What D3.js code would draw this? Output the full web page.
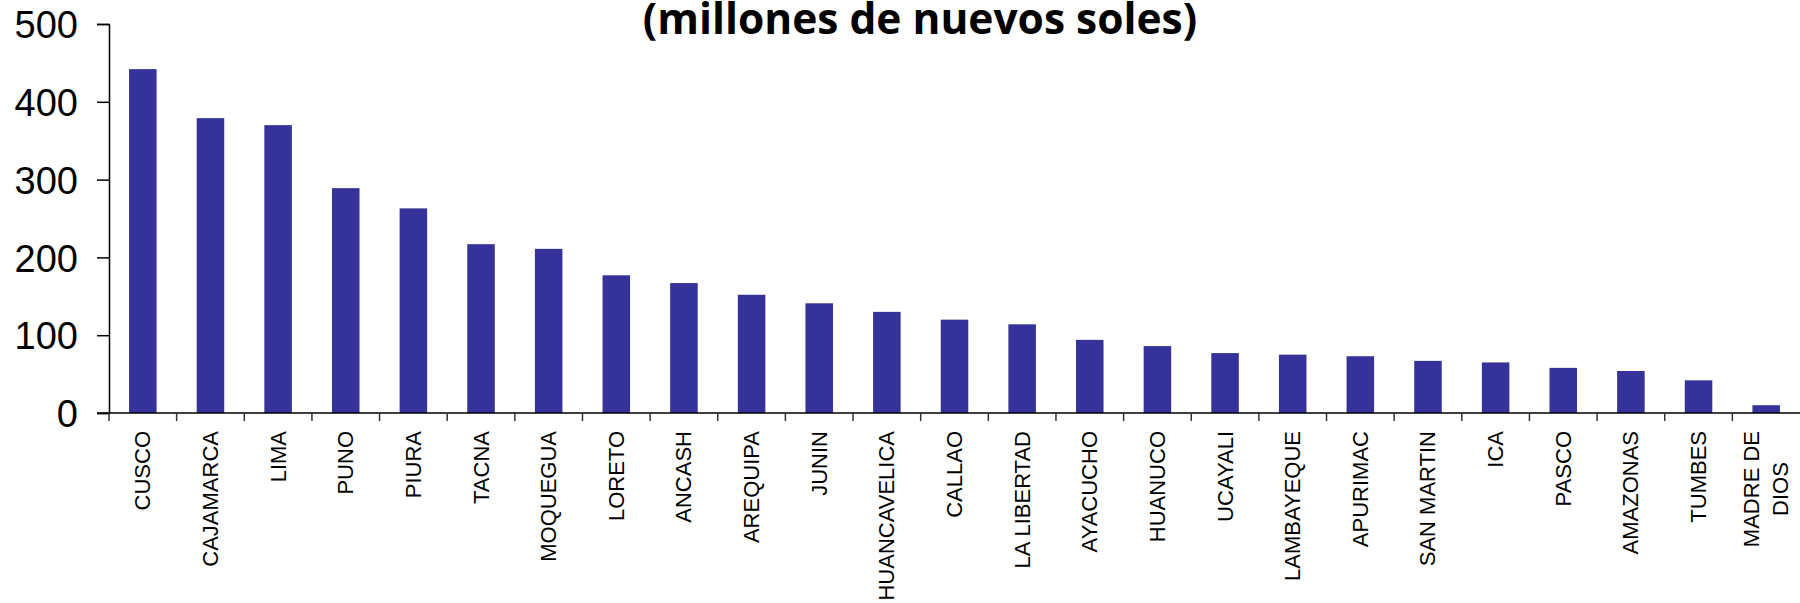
<!DOCTYPE html>
<html>
<head>
<meta charset="utf-8">
<script src="https://cdn.jsdelivr.net/npm/d3@7/dist/d3.min.js"></script>
<style>
  html, body { margin: 0; padding: 0; background: #fff; }
  svg { display: block; }
</style>
</head>
<body>
<svg id="chart" width="1800" height="603"></svg>
<script>
const titleText = "(millones de nuevos soles)";
const categories = ["CUSCO","CAJAMARCA","LIMA","PUNO","PIURA","TACNA","MOQUEGUA","LORETO","ANCASH","AREQUIPA","JUNIN","HUANCAVELICA","CALLAO","LA LIBERTAD","AYACUCHO","HUANUCO","UCAYALI","LAMBAYEQUE","APURIMAC","SAN MARTIN","ICA","PASCO","AMAZONAS","TUMBES","MADRE DE DIOS"];
const tickLabels = ["CUSCO","CAJAMARCA","LIMA","PUNO","PIURA","TACNA","MOQUEGUA","LORETO","ANCASH","AREQUIPA","JUNIN","HUANCAVELICA","CALLAO","LA LIBERTAD","AYACUCHO","HUANUCO","UCAYALI","LAMBAYEQUE","APURIMAC","SAN MARTIN","ICA","PASCO","AMAZONAS","TUMBES","MADRE DE\nDIOS"];
const values = [442, 379, 370, 289, 263, 217, 211, 177, 167, 152, 141, 130, 120, 114, 94, 86, 77, 75, 73, 67, 65, 58, 54, 42, 10];
const yTicks = [0, 100, 200, 300, 400, 500];

(function () {
const svg = d3.select("#chart");
const mLeft = 109, mRight = 1800, mTop = 24, mBottom = 413;
const pad = 0.593;

const x = d3.scaleBand().domain(categories).range([mLeft, mRight]).paddingInner(pad).paddingOuter(pad / 2);
const y = d3.scaleLinear().domain([0, 500]).range([mBottom, mTop]);

// title
svg.append("text")
  .attr("x", 920).attr("y", 34)
  .attr("text-anchor", "middle")
  .attr("font-family", "'Open Sans', sans-serif")
  .attr("font-weight", "bold")
  .attr("font-size", 42.5)
  .attr("fill", "#000")
  .text(titleText);

// bars
svg.append("g").selectAll("rect").data(values).join("rect")
  .attr("x", (d, i) => x(categories[i]))
  .attr("width", x.bandwidth())
  .attr("y", d => y(d))
  .attr("height", d => y(0) - y(d))
  .attr("fill", "#353399");

// y axis
const yAxis = d3.axisLeft(y).tickValues(yTicks).tickSize(12).tickPadding(19).tickFormat(d3.format("d"));
const gy = svg.append("g").attr("transform", `translate(${mLeft},0)`).call(yAxis);
gy.select(".domain").attr("stroke", "#000").attr("stroke-width", 1.5);
gy.selectAll(".tick line").attr("stroke", "#000").attr("stroke-width", 1.5);
gy.selectAll(".tick text")
  .attr("font-family", "'Liberation Sans', Arial, sans-serif")
  .attr("font-size", 38)
  .attr("fill", "#000")
  .attr("dy", "0.36em");

// x axis line
svg.append("line")
  .attr("x1", mLeft - 12).attr("x2", mRight)
  .attr("y1", y(0)).attr("y2", y(0))
  .attr("stroke", "#000").attr("stroke-width", 1.5);

// x boundary ticks
const boundaries = categories.map(c => x(c) - x.step() * pad / 2);
svg.append("g").selectAll("line").data(boundaries).join("line")
  .attr("x1", d => d).attr("x2", d => d)
  .attr("y1", y(0)).attr("y2", y(0) + 8)
  .attr("stroke", "#333").attr("stroke-width", 1.5);

// x labels
const labelTop = 431;
const lineH = 29;
const lg = svg.append("g");
categories.forEach((c, i) => {
  const lines = tickLabels[i].split("\n");
  const cx = x(c) + x.bandwidth() / 2;
  const t = lg.append("text")
    .attr("font-family", "'Liberation Sans', Arial, sans-serif")
    .attr("font-size", 22)
    .attr("fill", "#000")
    .attr("text-anchor", "middle");
  lines.forEach((ln, j) => {
    t.append("tspan").attr("x", 0)
      .attr("dy", j === 0 ? (-(lines.length - 1) / 2 * lineH) + 7.5 : lineH)
      .text(ln);
  });
  let maxLen = 0;
  t.selectAll("tspan").each(function () { maxLen = Math.max(maxLen, this.getComputedTextLength()); });
  t.attr("transform", `translate(${cx},${labelTop + maxLen / 2}) rotate(-90)`);
});
})();
</script>
</body>
</html>
